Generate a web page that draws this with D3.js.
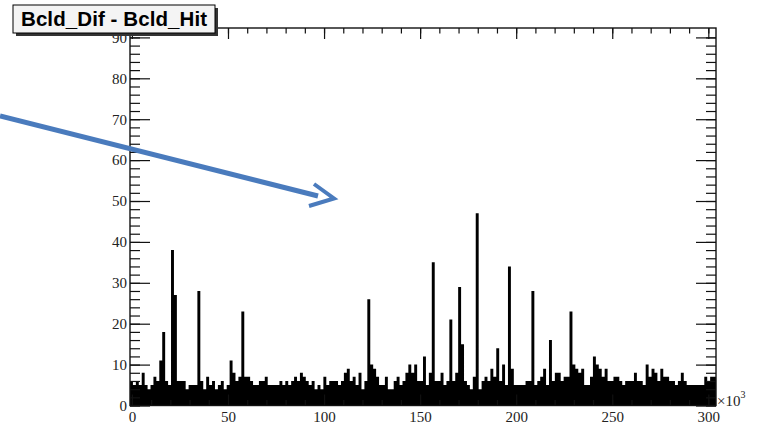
<!DOCTYPE html>
<html>
<head>
<meta charset="utf-8">
<script src="https://cdn.jsdelivr.net/npm/d3@7"></script>
<style>
  html, body { margin: 0; padding: 0; background: #fff; }
  svg { display: block; }
</style>
</head>
<body>
<div id="chart"></div>
<script>

/**
 * histogram contents, one count per bin (200 bins)
 */

const binCounts = [
  6, 5, 6, 5, 8, 5, 4, 5, 7, 6,
  11, 18, 6, 5, 38, 27, 6, 6, 6, 4,
  5, 5, 5, 28, 6, 4, 7, 5, 6, 4,
  5, 6, 4, 5, 11, 8, 6, 7, 23, 7,
  7, 6, 5, 5, 6, 6, 7, 5, 5, 5,
  5, 6, 5, 6, 5, 6, 7, 6, 8, 7,
  6, 5, 6, 4, 5, 4, 7, 5, 6, 6,
  6, 5, 6, 8, 9, 6, 7, 5, 8, 4,
  6, 26, 10, 9, 7, 5, 5, 7, 4, 4,
  6, 7, 5, 6, 8, 10, 8, 10, 6, 6,
  12, 5, 8, 35, 6, 6, 8, 5, 6, 21,
  6, 8, 29, 15, 6, 5, 4, 7, 47, 4,
  6, 7, 6, 9, 7, 14, 6, 10, 5, 34,
  9, 5, 5, 5, 5, 6, 6, 28, 5, 6,
  7, 9, 5, 16, 6, 8, 8, 6, 7, 7,
  23, 10, 9, 8, 9, 5, 5, 7, 12, 10,
  9, 7, 9, 6, 6, 7, 7, 6, 5, 6,
  6, 6, 8, 6, 6, 5, 10, 7, 9, 8,
  6, 9, 7, 7, 6, 6, 5, 6, 8, 6,
  5, 5, 5, 5, 5, 5, 7, 6, 7, 7
];

// histogram range (in units of 10^3)
const xRange = [-1, 304];
const yRange = [0, 92.3];

const xMajorTicks = [0, 50, 100, 150, 200, 250, 300];
const xMinorTicks = d3.range(0, 301, 10);
const yMajorTicks = [0, 10, 20, 30, 40, 50, 60, 70, 80, 90];
const yMinorTicks = d3.range(0, 92, 2);

const title = 'Bcld_Dif - Bcld_Hit';

/**
 * layout
 */

const width = 759;
const height = 426;
const frame = { left: 130, right: 716, top: 28, bottom: 405.5 };
const serif = '"Liberation Serif", "DejaVu Serif", serif';
const sans = '"Liberation Sans", Arial, sans-serif';

const svg = d3.select('#chart').append('svg')
  .attr('width', width)
  .attr('height', height);

const x = d3.scaleLinear().domain(xRange).range([frame.left, frame.right]);
const y = d3.scaleLinear().domain(yRange).range([frame.bottom, frame.top]);

/**
 * histogram as a filled step outline
 */

const binWidth = (xRange[1] - xRange[0]) / binCounts.length;
const steps = binCounts.map((v, i) => [xRange[0] + i * binWidth, v]);
steps.push([xRange[1], binCounts[binCounts.length - 1]]);

const area = d3.area()
  .curve(d3.curveStepAfter)
  .x(d => x(d[0]))
  .y0(y(0))
  .y1(d => y(d[1]));

svg.append('path')
  .datum(steps)
  .attr('fill', '#000')
  .attr('d', area);

/**
 * axes, ticks pointing into the frame
 */

function styleAxis(g) {
  g.select('.domain').remove();
  g.selectAll('line').attr('stroke', '#111').attr('stroke-width', 1.2);
  g.selectAll('text')
    .attr('fill', '#222')
    .attr('font-family', serif)
    .attr('font-size', 15);
}

const none = () => '';

// left
svg.append('g').attr('transform', `translate(${frame.left},0)`)
  .call(d3.axisLeft(y).tickValues(yMinorTicks).tickSize(-10).tickFormat(none))
  .call(styleAxis);
svg.append('g').attr('transform', `translate(${frame.left},0)`)
  .call(d3.axisLeft(y).tickValues(yMajorTicks).tickSize(-20).tickPadding(3).tickFormat(d3.format('d')))
  .call(styleAxis);

// right
svg.append('g').attr('transform', `translate(${frame.right},0)`)
  .call(d3.axisRight(y).tickValues(yMinorTicks).tickSize(-10).tickFormat(none))
  .call(styleAxis);
svg.append('g').attr('transform', `translate(${frame.right},0)`)
  .call(d3.axisRight(y).tickValues(yMajorTicks).tickSize(-20).tickFormat(none))
  .call(styleAxis);

// top
svg.append('g').attr('transform', `translate(0,${frame.top})`)
  .call(d3.axisTop(x).tickValues(xMinorTicks).tickSize(-5.5).tickFormat(none))
  .call(styleAxis);
svg.append('g').attr('transform', `translate(0,${frame.top})`)
  .call(d3.axisTop(x).tickValues(xMajorTicks).tickSize(-11).tickFormat(none))
  .call(styleAxis);

// bottom
svg.append('g').attr('transform', `translate(0,${frame.bottom})`)
  .call(d3.axisBottom(x).tickValues(xMinorTicks).tickSize(-5.5).tickFormat(none))
  .call(styleAxis);
svg.append('g').attr('transform', `translate(0,${frame.bottom})`)
  .call(d3.axisBottom(x).tickValues(xMajorTicks).tickSize(-11).tickPadding(6).tickFormat(d3.format('d')))
  .call(styleAxis);

// frame
svg.append('rect')
  .attr('x', frame.left)
  .attr('y', frame.top)
  .attr('width', frame.right - frame.left)
  .attr('height', frame.bottom - frame.top)
  .attr('fill', 'none')
  .attr('stroke', '#111')
  .attr('stroke-width', 1.4);

// exponent of the x axis
const expo = svg.append('text')
  .attr('x', frame.right + 1)
  .attr('y', frame.bottom)
  .attr('fill', '#222')
  .attr('font-family', serif)
  .attr('font-size', 15);
expo.append('tspan').text('\u00d710');
expo.append('tspan').attr('dy', -8).attr('font-size', 10).text('3');

/**
 * title box
 */

const box = { x: 13, y: 5, w: 202, h: 28 };
svg.append('rect')
  .attr('x', box.x + 3).attr('y', box.y + 3)
  .attr('width', box.w).attr('height', box.h)
  .attr('fill', '#333');
svg.append('rect')
  .attr('x', box.x).attr('y', box.y)
  .attr('width', box.w).attr('height', box.h)
  .attr('fill', '#f4f4f4')
  .attr('stroke', '#000')
  .attr('stroke-width', 1);
svg.append('text')
  .attr('x', box.x + box.w / 2)
  .attr('y', 26)
  .attr('text-anchor', 'middle')
  .attr('font-family', sans)
  .attr('font-weight', 'bold')
  .attr('font-size', 20.5)
  .attr('textLength', 186)
  .attr('fill', '#000')
  .text(title);

/**
 * blue annotation arrow laid over the plot
 */

const arrowColor = '#4a7bbd';
svg.append('line')
  .attr('x1', 0).attr('y1', 116)
  .attr('x2', 318).attr('y2', 196)
  .attr('stroke', arrowColor)
  .attr('stroke-width', 5);
svg.append('path')
  .attr('d', 'M314,184 L334,198.5 L309,206')
  .attr('fill', 'none')
  .attr('stroke', arrowColor)
  .attr('stroke-width', 4);

</script>
</body>
</html>
